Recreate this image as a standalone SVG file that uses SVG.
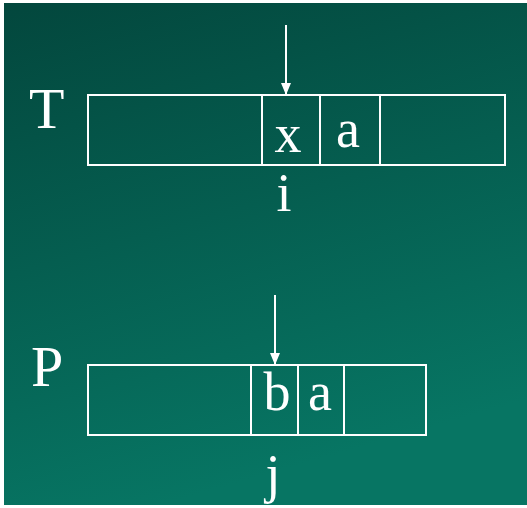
<svg xmlns="http://www.w3.org/2000/svg" width="527" height="508" viewBox="0 0 527 508">
<defs>
<linearGradient id="bg" x1="0" y1="0" x2="0.3" y2="1">
<stop offset="0" stop-color="#03473d"/>
<stop offset="1" stop-color="#077563"/>
</linearGradient>
<marker id="ah" markerWidth="12" markerHeight="10" refX="12" refY="5" orient="auto" markerUnits="userSpaceOnUse" viewBox="0 0 12 10">
<path d="M0,0 L12,5 L0,10 Z" fill="#ffffff"/>
</marker>
<style>
.cell{fill:none;stroke:#ffffff;stroke-width:2}
.lbl{font-family:"Liberation Serif","Times New Roman",serif;fill:#ffffff}
.big{font-size:58px}
.sm{font-size:54px;text-anchor:middle}
.ptr{stroke:#ffffff;stroke-width:2;fill:none}
</style>
</defs>
<rect x="0" y="0" width="527" height="508" fill="#ffffff"/>
<rect x="4" y="3" width="523" height="502" fill="url(#bg)"/>
<g id="T">
<text class="lbl big" x="29" y="128">T</text>
<rect class="cell" x="88" y="95" width="417" height="70"/>
<line class="cell" x1="262" y1="95" x2="262" y2="165"/>
<line class="cell" x1="320" y1="95" x2="320" y2="165"/>
<line class="cell" x1="380" y1="95" x2="380" y2="165"/>
<text class="lbl sm" x="288" y="152">x</text>
<text class="lbl sm" x="348" y="147">a</text>
<text class="lbl sm" x="284" y="211">i</text>
</g>
<g id="P">
<text class="lbl big" x="31" y="386">P</text>
<rect class="cell" x="88" y="365" width="338" height="70"/>
<line class="cell" x1="251" y1="365" x2="251" y2="435"/>
<line class="cell" x1="298" y1="365" x2="298" y2="435"/>
<line class="cell" x1="344" y1="365" x2="344" y2="435"/>
<text class="lbl sm" x="277" y="410">b</text>
<text class="lbl sm" x="320" y="410">a</text>
<text class="lbl sm" x="273" y="492">j</text>
</g>
<g id="connectors">
<line class="ptr" x1="286" y1="25" x2="286" y2="95" marker-end="url(#ah)"/>
<line class="ptr" x1="275" y1="295" x2="275" y2="365" marker-end="url(#ah)"/>
</g>
</svg>
